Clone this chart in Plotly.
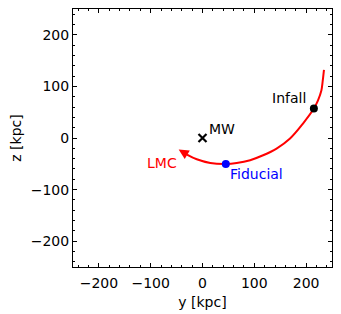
import plotly.graph_objects as go

# LMC orbit (y, z) in kpc
orbit_y = [234.5, 232, 229.5, 223, 215, 194, 169, 143, 117, 92, 66, 45, 15, -11, -30]
orbit_z = [132, 110, 92, 73, 57, 28, -1, -20.5, -33.5, -43, -48.5, -50.3, -48.4, -41.2, -32]
arrow_tip = (-46, -22.4)

mw = (0, 0)
infall = (215, 57)
fiducial = (45, -50.5)

label_font = dict(family="DejaVu Sans", size=14)

fig = go.Figure()
fig.add_trace(go.Scatter(x=orbit_y, y=orbit_z, mode="lines",
                         line=dict(color="#ff0000", width=2, shape="spline"),
                         hoverinfo="skip", showlegend=False))
fig.add_trace(go.Scatter(x=[mw[0]], y=[mw[1]], mode="markers",
                         marker=dict(symbol="x-thin", size=8, color="black",
                                     line=dict(width=2.2, color="black")),
                         showlegend=False))
fig.add_trace(go.Scatter(x=[infall[0]], y=[infall[1]], mode="markers",
                         marker=dict(symbol="circle", size=8, color="black"),
                         showlegend=False))
fig.add_trace(go.Scatter(x=[fiducial[0]], y=[fiducial[1]], mode="markers",
                         marker=dict(symbol="circle", size=8, color="#0000ff"),
                         showlegend=False))

fig.add_annotation(x=arrow_tip[0], y=arrow_tip[1], ax=orbit_y[-1], ay=orbit_z[-1],
                   xref="x", yref="y", axref="x", ayref="y", text="",
                   showarrow=True, arrowhead=2, arrowsize=1, arrowwidth=2,
                   arrowcolor="#ff0000", standoff=0)

fig.add_annotation(x=203, y=77, text="Infall", showarrow=False, xanchor="right",
                   yanchor="middle", font=dict(color="black", **label_font))
fig.add_annotation(x=8, y=18, text="MW", showarrow=False, xanchor="left",
                   yanchor="middle", font=dict(color="black", **label_font))
fig.add_annotation(x=-45, y=-47.5, text="LMC", showarrow=False, xanchor="right",
                   yanchor="middle", font=dict(color="#ff0000", **label_font))
fig.add_annotation(x=49, y=-69.5, text="Fiducial", showarrow=False, xanchor="left",
                   yanchor="middle", font=dict(color="#0000ff", **label_font))

axis_common = dict(
    range=[-250, 250], dtick=100, tick0=0, ticks="inside", ticklen=4, tickwidth=1,
    tickcolor="black", mirror="allticks", showline=True, linecolor="black", linewidth=1,
    showgrid=False, zeroline=False, automargin=False,
    tickfont=dict(family="DejaVu Sans", size=14, color="black"),
    minor=dict(dtick=20, ticks="inside", ticklen=2, tickcolor="black", showgrid=False),
)

fig.update_xaxes(**axis_common, ticklabelstandoff=3,
                 title=dict(text="y [kpc]", standoff=7,
                            font=dict(family="DejaVu Sans", size=14, color="black")))
fig.update_yaxes(**axis_common,
                 title=dict(text="z [kpc]", standoff=6,
                            font=dict(family="DejaVu Sans", size=14, color="black")))

# page body has an 8px margin: shrink figure so the plot area lands where intended
fig.update_layout(width=333, height=306,
                  margin=dict(l=65, r=9, t=1, b=47),
                  paper_bgcolor="white", plot_bgcolor="white",
                  showlegend=False)

fig.write_html("out.html")
